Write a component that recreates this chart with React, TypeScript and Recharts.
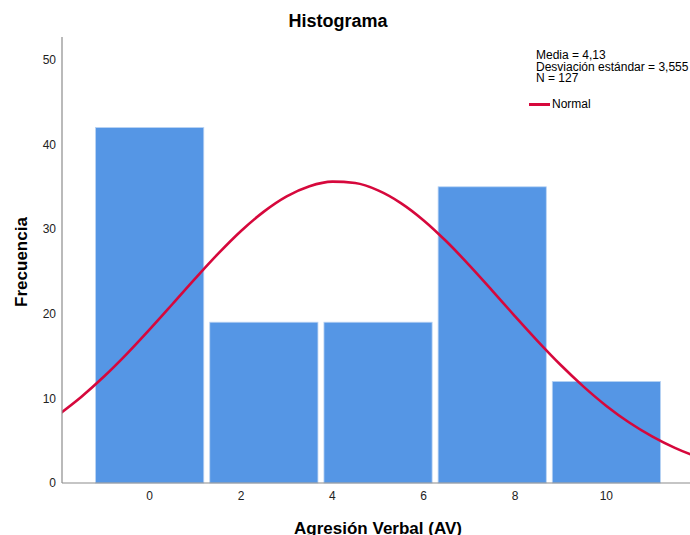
import { ComposedChart, Line, XAxis, YAxis, ReferenceArea } from "recharts";

// histogram bins (Agresión Verbal), width 2.5
const binStart = [-1.25, 1.25, 3.75, 6.25, 8.75];
const binEnd = [1.25, 3.75, 6.25, 8.75, 11.25];
const counts = [42, 19, 19, 35, 12];

// normal curve
const curveX = [
  -2, -1.5, -1, -0.5, 0, 0.5, 1, 1.5, 2, 2.5, 3, 3.5, 4, 4.5, 5, 5.5, 6, 6.5,
  7, 7.5, 8, 8.5, 9, 9.5, 10, 10.5, 11, 11.5, 12, 12.5,
];
const curveY = [
  8.06, 10.17, 12.58, 15.26, 18.15, 21.15, 24.18, 27.1, 29.78, 32.07, 33.87,
  35.07, 35.61, 35.44, 34.58, 33.08, 31.03, 28.53, 25.72, 22.74, 19.7, 16.74,
  13.94, 11.39, 9.11, 7.15, 5.51, 4.15, 3.07, 2.24,
];

const xTicks = [0, 2, 4, 6, 8, 10];
const yTicks = [0, 10, 20, 30, 40, 50];

const statLines = ["Media = 4,13", "Desviación estándar = 3,555", "N = 127"];

const BAR = "#5596e5";
const CURVE = "#d6083c";

const curveData = curveX.map((x, i) => ({ x, y: curveY[i] }));

function BinRect(props: any) {
  const { x, y, width, height } = props;
  return (
    <rect
      x={x + 3}
      y={y}
      width={Math.max(0, width - 6)}
      height={height}
      fill={BAR}
      stroke="#b9d3f3"
      strokeWidth={0.8}
    />
  );
}

export default function App() {
  return (
    <div
      style={{
        position: "fixed",
        left: 0,
        top: 0,
        width: 690,
        height: 535,
        overflow: "hidden",
        fontFamily: "'Liberation Sans', Arial, sans-serif",
        background: "#fff",
      }}
    >
      <div
        style={{
          position: "absolute",
          left: 238,
          width: 200,
          top: 11,
          textAlign: "center",
          fontSize: 18,
          fontWeight: "bold",
          color: "#000",
        }}
      >
        Histograma
      </div>

      <ComposedChart
        width={720}
        height={535}
        data={curveData}
        margin={{ top: 37, right: 20, bottom: 22, left: 12 }}
      >
        <XAxis
          dataKey="x"
          type="number"
          domain={[-1.92, 12.05]}
          allowDataOverflow
          ticks={xTicks}
          tickLine={false}
          axisLine={{ stroke: "#8c8c8c", strokeWidth: 1.2 }}
          tick={{ fontSize: 12, fill: "#222" }}
          height={30}
        />
        <YAxis
          type="number"
          domain={[0, 52.7]}
          allowDataOverflow
          ticks={yTicks}
          tickLine={false}
          tickMargin={0}
          axisLine={{ stroke: "#8c8c8c", strokeWidth: 1.2 }}
          tick={{ fontSize: 12, fill: "#222" }}
          width={50}
        />
        {counts.map((c, i) => (
          <ReferenceArea
            key={i}
            x1={binStart[i]}
            x2={binEnd[i]}
            y1={0}
            y2={c}
            shape={BinRect}
            ifOverflow="visible"
          />
        ))}
        <Line
          dataKey="y"
          type="monotone"
          stroke={CURVE}
          strokeWidth={2.6}
          dot={false}
          activeDot={false}
          isAnimationActive={false}
        />
      </ComposedChart>

      <div
        style={{
          position: "absolute",
          left: 22,
          top: 262,
          transform: "translate(-50%, -50%) rotate(-90deg)",
          fontSize: 17,
          fontWeight: "bold",
          whiteSpace: "nowrap",
          color: "#000",
        }}
      >
        Frecuencia
      </div>

      <div
        style={{
          position: "absolute",
          left: 278,
          width: 200,
          top: 519,
          textAlign: "center",
          fontSize: 17,
          fontWeight: "bold",
          whiteSpace: "nowrap",
          color: "#000",
        }}
      >
        Agresión Verbal (AV)
      </div>

      <div
        style={{
          position: "absolute",
          left: 536,
          top: 50,
          fontSize: 12,
          lineHeight: "11.5px",
          color: "#000",
          whiteSpace: "nowrap",
        }}
      >
        {statLines.map((s) => (
          <div key={s}>{s}</div>
        ))}
      </div>

      <div
        style={{
          position: "absolute",
          left: 529,
          top: 97,
          display: "flex",
          alignItems: "center",
          fontSize: 12,
          color: "#000",
        }}
      >
        <span
          style={{
            display: "inline-block",
            width: 21,
            height: 3,
            background: CURVE,
            marginRight: 2,
          }}
        />
        Normal
      </div>
    </div>
  );
}
